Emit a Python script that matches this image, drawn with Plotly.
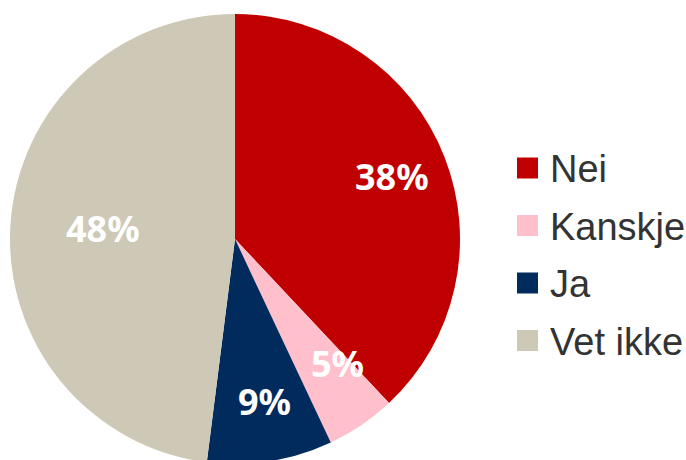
import numpy as np
import plotly.graph_objects as go

labels = ["Nei", "Kanskje", "Ja", "Vet ikke"]
values = [38, 5, 9, 48]
colors = ["#C00000", "#FFC0CB", "#002B5C", "#CEC8B6"]

# figure is a bit taller than the 460 px window so the pie runs off the bottom edge
W, H = 686, 464

# pie placement (paper fractions) and how far out the % labels sit
dom_x = [10 / W, 460 / W]
dom_y = [0.0, 1 - 14 / H]
label_r = [0.75, 0.81, 0.85, 0.76]

fig = go.Figure(
    go.Pie(
        labels=labels,
        values=values,
        sort=False,
        direction="clockwise",
        rotation=0,
        marker=dict(colors=colors, line=dict(width=0)),
        textinfo="none",
        domain=dict(x=dom_x, y=dom_y),
        hoverinfo="label+percent",
        showlegend=False,
    )
)

# percent labels placed at slice mid-angles
cx = (dom_x[0] + dom_x[1]) / 2 * W
cy = (dom_y[0] + dom_y[1]) / 2 * H
R = min((dom_x[1] - dom_x[0]) * W, (dom_y[1] - dom_y[0]) * H) / 2
vals = np.array(values, dtype=float)
mids = (np.cumsum(vals) - vals / 2) / vals.sum() * 2 * np.pi
for v, a, k in zip(values, mids, label_r):
    px = cx + k * R * np.sin(a)
    py = cy + k * R * np.cos(a)
    fig.add_annotation(
        x=px / W, y=py / H, xref="paper", yref="paper",
        text=f"{v}%", showarrow=False,
        font=dict(color="white", size=36, family="Noto Sans", weight="bold"),
    )

# legend: coloured squares with labels
leg_x0, leg_y0, leg_step, box = 517, 168, 57.5, 21
for i, (lab, col) in enumerate(zip(labels, colors)):
    yc = leg_y0 + i * leg_step
    fig.add_shape(
        type="rect", xref="paper", yref="paper",
        x0=leg_x0 / W, x1=(leg_x0 + box) / W,
        y0=1 - (yc - box / 2) / H, y1=1 - (yc + box / 2) / H,
        fillcolor=col, line=dict(width=0),
    )
    fig.add_annotation(
        x=(leg_x0 + 31) / W, y=1 - (yc + 1) / H, xref="paper", yref="paper",
        text=lab, showarrow=False, xanchor="left", yanchor="middle",
        font=dict(size=38, color="#333333", family="Liberation Sans"),
    )

fig.update_layout(
    width=W,
    height=H,
    paper_bgcolor="white",
    plot_bgcolor="white",
    margin=dict(l=0, r=0, t=0, b=0),
    font=dict(family="Liberation Sans", color="#333333"),
    showlegend=False,
)

fig.write_html(
    "out.html",
    config={"displayModeBar": False},
    post_script="document.body.style.margin='0';document.body.style.overflow='hidden';",
)
